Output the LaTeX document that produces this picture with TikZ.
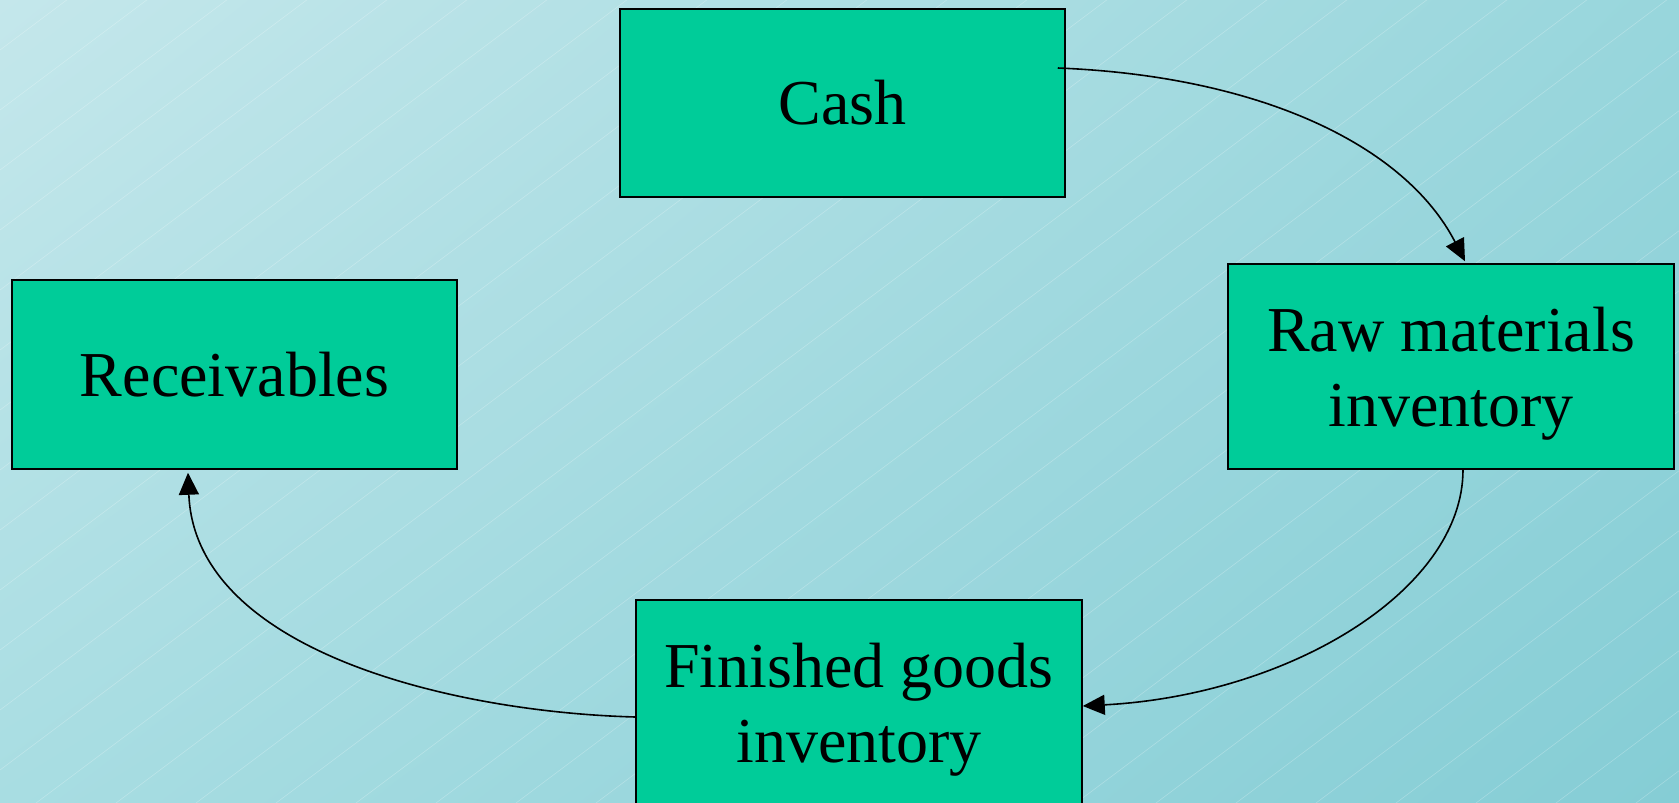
\documentclass[tikz,border=0pt]{standalone}
\usepackage{fontspec}
\setmainfont{Liberation Serif}
\usetikzlibrary{arrows.meta,shadings,calc}
\definecolor{bgTL}{HTML}{C4E7EB}
\definecolor{bgTR}{HTML}{98D6DC}
\definecolor{bgBL}{HTML}{A8DDE2}
\definecolor{bgBR}{HTML}{85CDD5}
\definecolor{boxgreen}{HTML}{00CC99}
\tikzset{
  stagebox/.style={draw=black, line width=1.5pt, fill=boxgreen, rectangle, inner sep=0pt,
    align=center, font=\fontsize{64}{75}\selectfont, text=black},
  flow/.style={draw=black, line width=1.6pt, -{Triangle[length=22pt,width=20pt]}},
  hatch/.style={white, opacity=0.25, line width=0.6pt}
}
\begin{document}
\begin{tikzpicture}[x=1pt,y=-1pt]
\useasboundingbox (0,0) rectangle (1679,803);
\begin{scope}
\clip (0,0) rectangle (1679,803);
\shade[upper left=bgTL, upper right=bgTR, lower left=bgBL, lower right=bgBR] (0,0) rectangle (1679,803);
\foreach \k in {0,...,35}{
  \draw[hatch] (0,{50+60*\k}) -- (1679,{50+60*\k-1259.25});
}
\node[stagebox, minimum width=445pt, minimum height=188pt] (cash) at (842.5,103) {Cash};
\node[stagebox, minimum width=446pt, minimum height=205pt, text depth=0pt] (raw) at (1451,366.5) {Raw materials\\inventory};
\node[stagebox, minimum width=445pt, minimum height=189pt] (rec) at (234.5,374.5) {Receivables};
\node[stagebox, minimum width=446pt, minimum height=205pt, text depth=0pt] (fin) at (859,702.5) {Finished goods\\inventory};
\coordinate (c1s) at ($(cash.east)+(-8,-35)$);
\coordinate (c1e) at ($(raw.north)+(14,-2)$);
\coordinate (c2s) at ($(raw.south)+(12,0)$);
\coordinate (c2e) at ($(fin.east)+(0,3.5)$);
\coordinate (c3s) at ($(fin.west)+(0,14.5)$);
\coordinate (c3e) at ($(rec.south)+(-46.5,3)$);
\draw[flow] (c1s) .. controls (1260,76) and (1405,145) .. (c1e);
\draw[flow] (c2s) .. controls (1463,590) and (1290,695) .. (c2e);
\draw[flow] (c3s) .. controls (450,712) and (195,650) .. (c3e);
\end{scope}
\end{tikzpicture}
\end{document}
